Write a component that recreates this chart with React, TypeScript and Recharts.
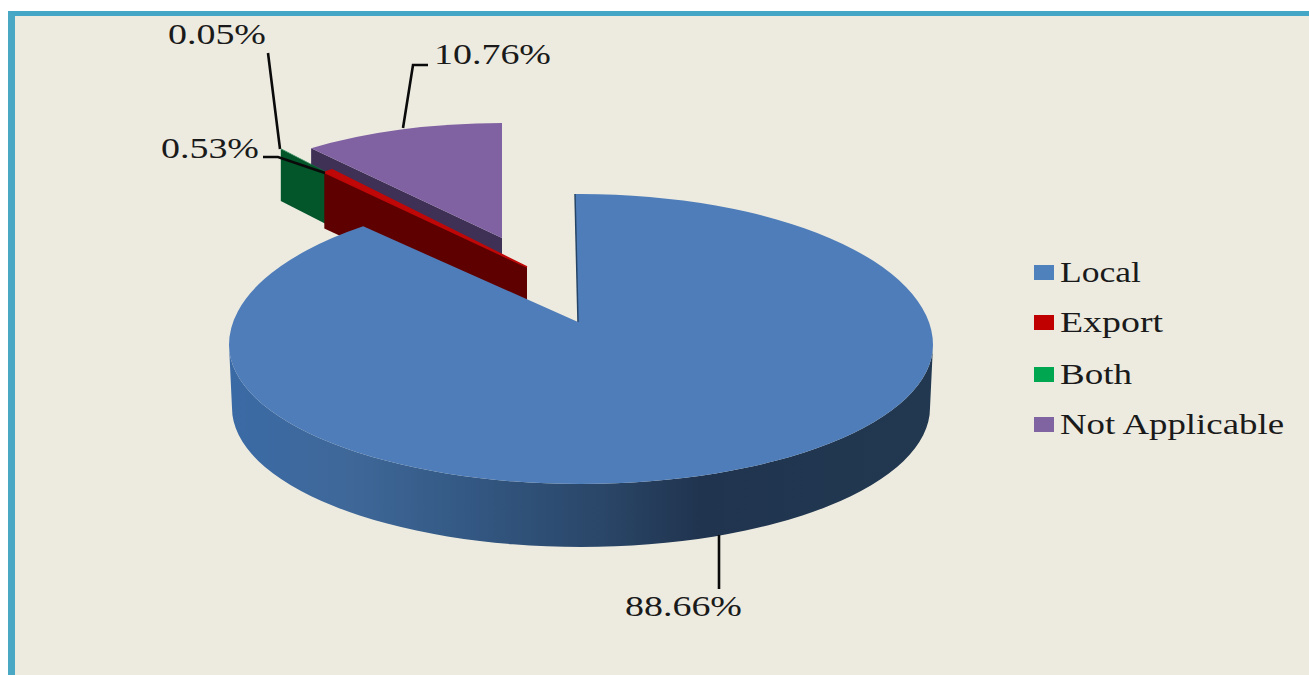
import { PieChart, Pie, Legend } from "recharts";

// Legend order
const categories = ["Local", "Export", "Both", "Not Applicable"];
const shares = [88.66, 0.53, 0.05, 10.76];
const legendColors = ["#4f81bd", "#c00000", "#00a650", "#8064a2"];

// Slices are handed to the Pie back to front, so Local is painted last
const drawOrder = [3, 2, 1, 0];
const chartData = drawOrder.map((i) => ({ name: categories[i], value: shares[i] }));

const CX = 581;
const CY = 339;
const RADIUS = 352;

// Exploded 3D look: where each slice sits relative to the pie centre
const sliceLook: Record<string, any> = {
  Local: { apexX: -3, apexY: -17, rx: 352, ry: 151, ryFront: 139, ox: 0, oy: 6, depth: 63, top: "#4f7db9", wall: "#2c4a72", skew: 2.6 },
  Export: { apexX: -54, apexY: -72, rx: 310, ry: 125, ox: -54, oy: -72, depth: 56, top: "#c00808", wall: "#5f0000", skew: 0, edge: 1.5 },
  Both: { apexX: -161, apexY: -119, rx: 333, ry: 126, ox: -91, oy: -92, depth: 52, top: "#0a7a3c", wall: "#03552a", skew: 0, edge: 0 },
  "Not Applicable": { apexX: -79, apexY: -101, rx: 305, ry: 115, ox: -79, oy: -101, depth: 34, top: "#8061a2", wall: "#3f3056", skew: 0, edge: 0 },
};

// Leader lines and value labels, relative to the pie centre
const labelLook: Record<string, any> = {
  Local: { line: [[138, 196], [138, 250]], textX: 44, textY: 277, width: 117 },
  Export: { line: [[-318, -182], [-303, -182], [-256, -166]], textX: -420, textY: -181, width: 98 },
  Both: { line: [[-313, -286], [-301, -190]], textX: -413, textY: -295, width: 98 },
  "Not Applicable": { line: [[-153, -274], [-168, -274], [-178, -211]], textX: -147, textY: -275, width: 117 },
};

const TEXT_FONT = "'Liberation Serif', serif";

function SliceShape(props: any) {
  const { cx, cy, outerRadius, startAngle, endAngle, name } = props;
  const look = sliceLook[name];
  const k = outerRadius / RADIUS;
  const rx = look.rx * k;
  const ry = look.ry * k;
  const ex = cx + look.ox;
  const ey = cy + look.oy;
  const ax = cx + look.apexX;
  const ay = cy + look.apexY;
  const at = (deg: number) => {
    const r = (deg * Math.PI) / 180;
    return [ex + rx * Math.cos(r), ey - ry * Math.sin(r)];
  };
  // cut edge that faces the viewer is the one with the larger angle here
  const a0 = startAngle;
  const a1 = endAngle;
  const large = Math.abs(a1 - a0) > 180 ? 1 : 0;

  if (name === "Local") {
    const ryFront = look.ryFront * k;
    const from = at(a0 - look.skew);
    const to = at(a1);
    // back half of the ellipse is a little taller than the front half (perspective)
    const topPath =
      `M${ax},${ay} L${from[0]},${from[1]} ` +
      `A${rx},${ry} 0 0 0 ${ex - rx},${ey} ` +
      `A${rx},${ryFront} 0 0 0 ${ex + rx},${ey} ` +
      `A${rx},${ry} 0 0 0 ${to[0]},${to[1]} L${cx - 6},${to[1]} Z`;
    const wallPath =
      `M${ex - rx},${ey} A${rx},${ryFront} 0 0 0 ${ex + rx},${ey} ` +
      `L${ex + rx - 3},${ey + look.depth} A${rx - 3},${ryFront} 0 0 1 ${ex - rx + 3},${ey + look.depth} Z`;
    return (
      <g>
        <path d={wallPath} fill="url(#localWall)" />
        <path d={topPath} fill={look.top} />
        <path d={`M${cx - 6},${to[1]} L${ax},${ay}`} stroke="#264566" strokeWidth={1.5} fill="none" />
      </g>
    );
  }

  const p0 = at(a0);
  const p1 = at(a1);
  const d = look.depth;
  return (
    <g>
      <path d={`M${ax},${ay} L${p1[0]},${p1[1]} L${p1[0]},${p1[1] + d} L${ax},${ay + d} Z`} fill={look.wall} />
      <path
        d={`M${ax},${ay} L${p0[0]},${p0[1]} A${rx},${ry} 0 ${large} 0 ${p1[0]},${p1[1]} Z`}
        fill={look.top}
        stroke={look.edge ? look.top : "none"}
        strokeWidth={look.edge}
      />
    </g>
  );
}

function SliceLabel(props: any) {
  const { cx, cy, name, value } = props;
  const look = labelLook[name];
  const pts = look.line.map((p: number[]) => `${cx + p[0]},${cy + p[1]}`).join(" ");
  return (
    <g>
      <polyline points={pts} fill="none" stroke="#0a0a0a" strokeWidth={2.6} />
      <text
        x={cx + look.textX}
        y={cy + look.textY}
        fontFamily={TEXT_FONT}
        fontSize={30}
        fill="#1a1a1a"
        textLength={look.width}
        lengthAdjust="spacingAndGlyphs"
      >
        {value.toFixed(2)}%
      </text>
    </g>
  );
}

const legendWidths = [81, 103, 72, 224];
const LEGEND_ROW_Y = [24, 74, 126, 176];

function PieLegend() {
  return (
    <svg width={270} height={200} style={{ display: "block" }}>
      {categories.map((name, i) => (
        <g key={name}>
          <rect x={4} y={LEGEND_ROW_Y[i] - 14} width={20} height={15} fill={legendColors[i]} />
          <text
            x={30}
            y={LEGEND_ROW_Y[i] + 3}
            fontFamily={TEXT_FONT}
            fontSize={30}
            fill="#1a1a1a"
            textLength={legendWidths[i]}
            lengthAdjust="spacingAndGlyphs"
          >
            {name}
          </text>
        </g>
      ))}
    </svg>
  );
}

export default function App() {
  return (
    <div style={{ position: "fixed", left: 0, top: 0, width: 1309, height: 675, background: "#fff", overflow: "hidden" }}>
      <div
        style={{
          position: "absolute",
          left: 8,
          top: 11,
          right: 0,
          bottom: 0,
          background: "#edebe0",
          borderLeft: "7px solid #4aa8c4",
          borderTop: "5px solid #45a7c6",
        }}
      />
      <div style={{ position: "absolute", left: 0, top: 0 }}>
        <PieChart width={1309} height={675} margin={{ top: 0, right: 0, bottom: 0, left: 0 }}>
          <defs>
            <linearGradient id="localWall" x1="0" y1="0" x2="1" y2="0">
              <stop offset="0%" stopColor="#3a6aa5" />
              <stop offset="17%" stopColor="#3f6899" />
              <stop offset="34%" stopColor="#335883" />
              <stop offset="53%" stopColor="#2a4668" />
              <stop offset="67%" stopColor="#20344f" />
              <stop offset="100%" stopColor="#223850" />
            </linearGradient>
          </defs>
          <Pie
            data={chartData}
            dataKey="value"
            nameKey="name"
            cx={CX}
            cy={CY}
            outerRadius={RADIUS}
            startAngle={90}
            endAngle={450}
            stroke="none"
            shape={SliceShape}
            label={SliceLabel}
            labelLine={false}
            isAnimationActive={false}
          />
          <Legend
            layout="vertical"
            align="right"
            verticalAlign="top"
            content={PieLegend}
            wrapperStyle={{ left: 1030, top: 255, right: "auto", width: 270 }}
          />
        </PieChart>
      </div>
    </div>
  );
}
